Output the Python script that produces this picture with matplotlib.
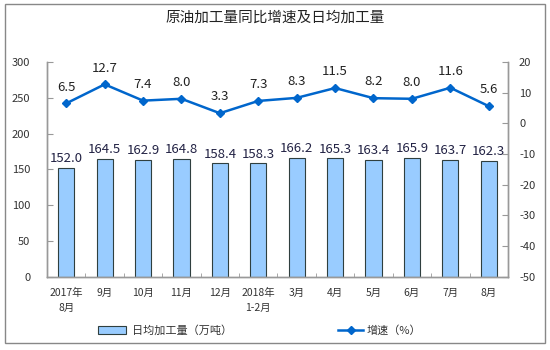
import matplotlib.pyplot as plt
from matplotlib.patches import Rectangle
from matplotlib.lines import Line2D
from matplotlib.patches import Patch

plt.rcParams['font.family'] = ['Noto Sans CJK SC', 'DejaVu Sans']
plt.rcParams['axes.unicode_minus'] = False

months = ["2017年\n8月", "9月", "10月", "11月", "12月", "2018年\n1-2月",
          "3月", "4月", "5月", "6月", "7月", "8月"]
daily = [152.0, 164.5, 162.9, 164.8, 158.4, 158.3, 166.2, 165.3, 163.4, 165.9, 163.7, 162.3]
growth = [6.5, 12.7, 7.4, 8.0, 3.3, 7.3, 8.3, 11.5, 8.2, 8.0, 11.6, 5.6]

text_c = "#333333"
axis_c = "#999999"

fig = plt.figure(figsize=(5.5, 3.5), dpi=100)
ax = fig.add_axes([0.0855, 0.209, 0.838, 0.614])
ax2 = ax.twinx()

x = list(range(len(months)))
ax.bar(x, daily, width=0.42, color="#99ccff", edgecolor="#2f3f3f", linewidth=0.8, zorder=2)
for xi, v in zip(x, daily):
    ax.text(xi, v + 4, f"{v:.1f}", ha="center", va="bottom", fontsize=9.5, color="#222244")

ax2.plot(x, growth, color="#0066cc", lw=1.8, marker="D", ms=4, zorder=3)
for xi, v in zip(x, growth):
    ax2.text(xi, v + 3.2, f"{v:.1f}", ha="center", va="bottom", fontsize=9.5, color="#222222")

ax.set_xlim(-0.5, len(months) - 0.5)
ax.set_ylim(0, 300)
ax.set_yticks(range(0, 301, 50))
ax2.set_ylim(-50, 20)
ax2.set_yticks(range(-50, 21, 10))

ax.set_xticks(x)
ax.set_xticklabels(months, fontsize=7.5, color=text_c, linespacing=1.6)
ax.set_xticks([i + 0.5 for i in range(len(months) - 1)], minor=True)
ax.tick_params(axis="x", which="major", length=0, pad=8)
ax.tick_params(axis="x", which="minor", length=3, direction="in", color=axis_c)
ax.tick_params(axis="y", labelsize=8, labelcolor=text_c, color=axis_c, length=4, direction="in", pad=12)
ax2.tick_params(axis="y", labelsize=8, labelcolor=text_c, color=axis_c, length=4, direction="in", pad=8)

for a in (ax, ax2):
    a.spines["top"].set_visible(False)
    for s in ("left", "right", "bottom"):
        a.spines[s].set_color(axis_c)
        a.spines[s].set_linewidth(1)

fig.text(0.5, 0.95, "原油加工量同比增速及日均加工量", ha="center", va="center",
         fontsize=10.5, color="#222222")

handles = [Patch(facecolor="#99ccff", edgecolor="#2f3f3f", linewidth=0.8),
           Line2D([0], [0], color="#0066cc", lw=1.8, marker="D", ms=4)]
leg1 = fig.legend([handles[0]], ["日均加工量（万吨）"], loc="center", bbox_to_anchor=(0.3, 0.055),
                  frameon=False, fontsize=8, handlelength=2.5, handleheight=0.8, handletextpad=0.5)
for t in leg1.get_texts():
    t.set_color(text_c)
leg2 = fig.legend([handles[1]], ["增速（%）"], loc="center", bbox_to_anchor=(0.69, 0.055),
                  frameon=False, fontsize=8, handlelength=2.2, handletextpad=0.3)
for t in leg2.get_texts():
    t.set_color(text_c)

fig.patches.append(Rectangle((0.009, 0.02), 0.982, 0.97, transform=fig.transFigure,
                             fill=False, edgecolor="#888888", linewidth=1))

fig.savefig("out.png", dpi=100)
